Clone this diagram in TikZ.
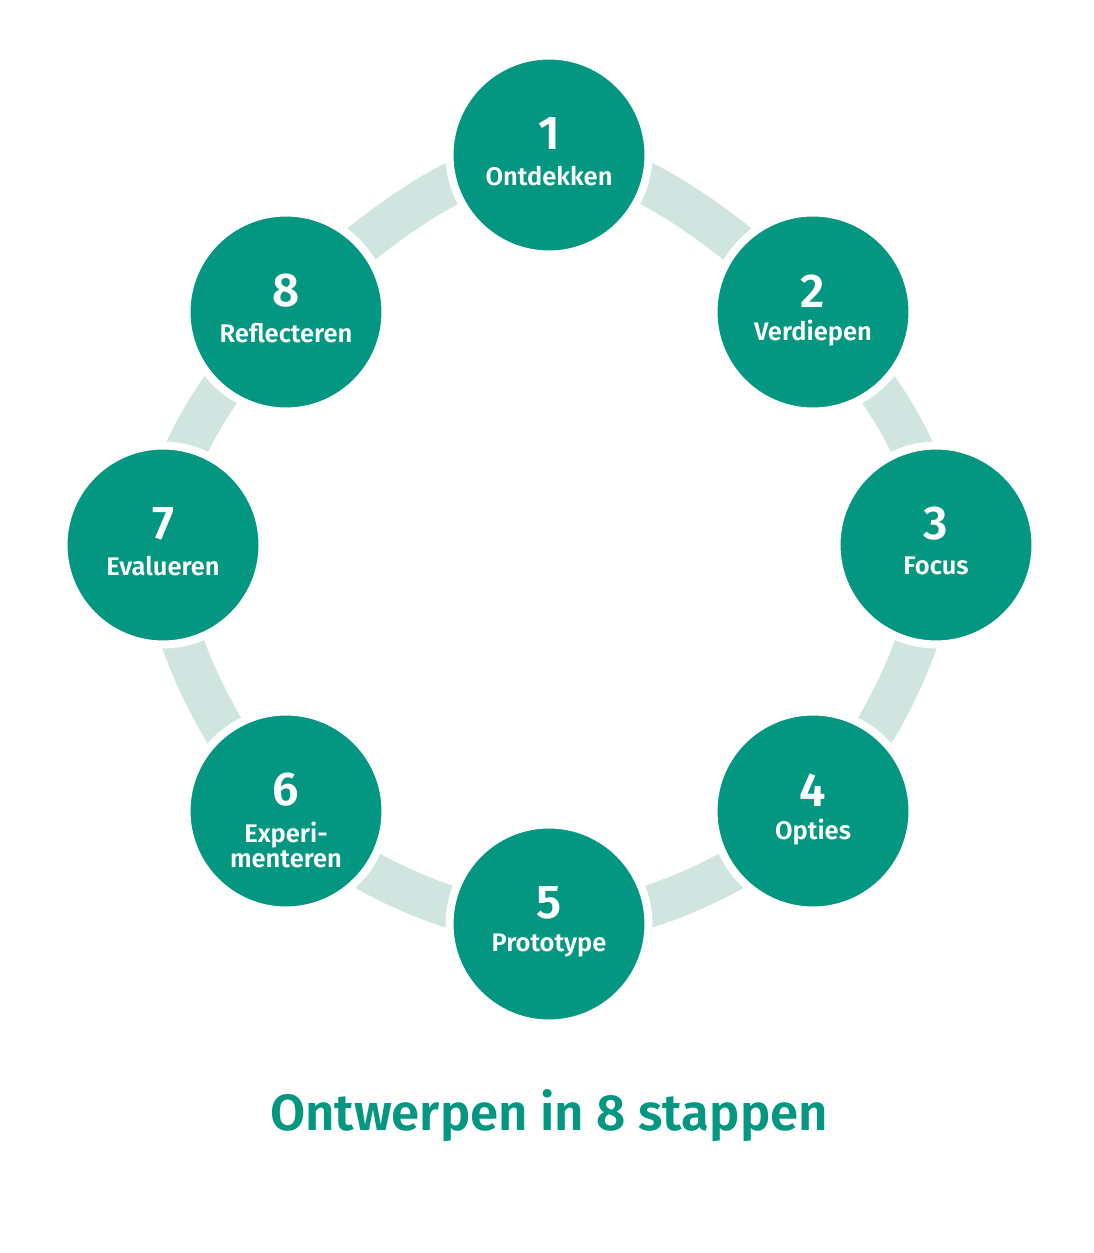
\documentclass[tikz,border=0pt]{standalone}
\usepackage{fontspec}
\setmainfont{Fira Sans}[BoldFont={Fira Sans SemiBold}]
\usepackage{tikz}
\definecolor{stepgreen}{RGB}{3,150,128}
\definecolor{ringgray}{RGB}{208,229,223}

\begin{document}
\begin{tikzpicture}[x=0.02cm, y=-0.02cm,
  stepnode/.style={circle, fill=stepgreen, draw=white, line width=0.16cm, minimum size=3.98cm, inner sep=0pt},
  stepnum/.style={text=white, font=\fontsize{27}{27}\selectfont\bfseries},
  steplabel/.style={text=white, font=\fontsize{14.5}{14}\selectfont\bfseries, align=center},
  ring/.style={draw=ringgray, line width=0.84cm}]
  \useasboundingbox (0,0) rectangle (1094,1253);
  % positions of the eight steps
  \coordinate (p1) at (549,155);
  \coordinate (p2) at (813,312);
  \coordinate (p3) at (936,545);
  \coordinate (p4) at (813,811);
  \coordinate (p5) at (549,924);
  \coordinate (p6) at (286,811);
  \coordinate (p7) at (163,545);
  \coordinate (p8) at (286,312);
  \draw[ring] plot[smooth cycle, tension=0.6] coordinates {(p1) (p2) (p3) (p4) (p5) (p6) (p7) (p8)};
  % the circles
  \node[stepnode] (s1) at (p1) {};
  \node[stepnode] (s2) at (p2) {};
  \node[stepnode] (s3) at (p3) {};
  \node[stepnode] (s4) at (p4) {};
  \node[stepnode] (s5) at (p5) {};
  \node[stepnode] (s6) at (p6) {};
  \node[stepnode] (s7) at (p7) {};
  \node[stepnode] (s8) at (p8) {};
  \node[stepnum] (n1) at ([yshift=0.42cm]s1.center) {1};
  \node[steplabel] (l1) at ([yshift=-0.42cm]s1.center) {Ontdekken};
  \node[stepnum] (n2) at ([yshift=0.42cm]s2.center) {2};
  \node[steplabel] (l2) at ([yshift=-0.42cm]s2.center) {Verdiepen};
  \node[stepnum] (n3) at ([yshift=0.42cm]s3.center) {3};
  \node[steplabel] (l3) at ([yshift=-0.42cm]s3.center) {Focus};
  \node[stepnum] (n4) at ([yshift=0.42cm]s4.center) {4};
  \node[steplabel] (l4) at ([yshift=-0.42cm]s4.center) {Opties};
  \node[stepnum] (n5) at ([yshift=0.42cm]s5.center) {5};
  \node[steplabel] (l5) at ([yshift=-0.42cm]s5.center) {Prototype};
  \node[stepnum] (n6) at ([yshift=0.42cm]s6.center) {6};
  \node[steplabel] (l6) at ([yshift=-0.68cm]s6.center) {Experi-\\menteren};
  \node[stepnum] (n7) at ([yshift=0.42cm]s7.center) {7};
  \node[steplabel] (l7) at ([yshift=-0.42cm]s7.center) {Evalueren};
  \node[stepnum] (n8) at ([yshift=0.42cm]s8.center) {8};
  \node[steplabel] (l8) at ([yshift=-0.42cm]s8.center) {Reflecteren};
  % title
  \node[text=stepgreen, font=\fontsize{29}{29}\selectfont\bfseries] (title) at (549,1116) {Ontwerpen in 8 stappen};
\end{tikzpicture}
\end{document}
